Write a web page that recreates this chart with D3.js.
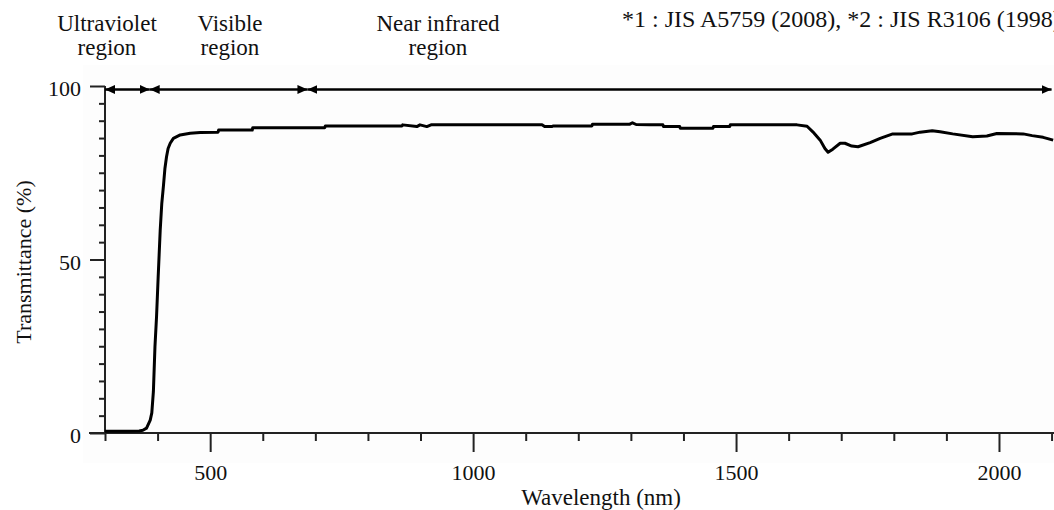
<!DOCTYPE html>
<html><head><meta charset="utf-8">
<script src="https://cdn.jsdelivr.net/npm/d3@7"></script>
<style>
  html, body { margin: 0; padding: 0; background: #fff; overflow: hidden; }
  svg { display: block; font-family: "Liberation Serif", "Times New Roman", serif; }
  .tick text { fill: #111; font-size: 22px; font-family: "Liberation Serif", "Times New Roman", serif; }
  .tick line { stroke: #222; stroke-width: 2; }
</style></head>
<body>
<svg id="chart" width="1054" height="510"></svg>
<script>
/* Spectral transmittance of glass, 300–2100 nm. */

// ---------- data ----------
const WAVELENGTH = [300, 340, 365, 372, 379, 386, 389, 392, 395, 398, 401, 405, 408, 411, 414, 417, 420, 424, 430, 443,
  462, 481, 515, 516, 580, 581, 718, 719, 865, 866, 893, 899, 912, 920, 1131, 1136, 1150, 1152, 1226, 1227,
  1298, 1303, 1310, 1336, 1361, 1362, 1393, 1394, 1456, 1457, 1488, 1489, 1616, 1635, 1646, 1660, 1669, 1675,
  1684, 1698, 1707, 1720, 1732, 1755, 1774, 1798, 1835, 1850, 1873, 1888, 1912, 1950, 1977, 1996, 2046, 2063,
  2084, 2103];
const TRANSMITTANCE = [0.5, 0.5, 0.6, 0.8, 1.4, 3.7, 5.8, 11.9, 24.9, 33.5, 44.6, 58.5, 66.2, 71.0, 76.3, 79.6, 82.0, 83.5, 84.9, 85.9,
  86.4, 86.6, 86.7, 87.3, 87.3, 88.0, 88.0, 88.5, 88.5, 88.8, 88.3, 88.8, 88.3, 88.8, 88.8, 88.3, 88.3, 88.5, 88.5, 89.0,
  89.0, 89.4, 88.9, 88.8, 88.8, 88.3, 88.3, 87.8, 87.8, 88.3, 88.3, 88.8, 88.8, 88.4, 86.8, 84.4, 82.0, 80.9,
  81.8, 83.5, 83.5, 82.7, 82.5, 83.7, 84.9, 86.2, 86.2, 86.7, 87.1, 86.8, 86.2, 85.4, 85.6, 86.3, 86.2, 85.7,
  85.2, 84.4];

const X_MAJOR = [500, 1000, 1500, 2000];
const X_MINOR = [300, 400, 600, 700, 800, 900, 1100, 1200, 1300, 1400, 1600, 1700, 1800, 1900, 2100];
const Y_MAJOR = [0, 50, 100];
const Y_MINOR = [5, 10, 15, 20, 25, 30, 35, 40, 45, 55, 60, 65, 70, 75, 80, 85, 90, 95];

const REGION_NAMES = [["Ultraviolet", "region"], ["Visible", "region"], ["Near infrared", "region"]];
const REGION_BOUNDS = [[300, 385], [385, 685], [685, 2100]];
const NOTE = "*1 : JIS A5759 (2008), *2 : JIS R3106 (1998)";

// ---------- layout ----------
const svg = d3.select("#chart");
const x = d3.scaleLinear().domain([300, 2105]).range([105, 1054.2]);
const y = d3.scaleLinear().domain([0, 100]).range([433, 86]);
const INK = "#111", AXIS = "#222";

svg.append("rect").attr("x", 83).attr("y", 65).attr("width", 1054 - 83).attr("height", 463 - 65).attr("fill", "#fdfdfd");

// ---------- axes ----------
const gx = svg.append("g").attr("transform", `translate(0,${y(0)})`);
gx.append("g").call(d3.axisBottom(x).tickValues(X_MINOR).tickSize(8).tickFormat(""))
  .call(g => g.select(".domain").remove());
gx.append("g").call(d3.axisBottom(x).tickValues(X_MAJOR).tickSize(19).tickFormat(d3.format("d")))
  .call(g => g.select(".domain").remove())
  .call(g => g.selectAll("text").attr("y", 47).attr("dy", 0));
gx.append("line").attr("x1", x(300) - 16).attr("x2", 1054).attr("stroke", AXIS).attr("stroke-width", 2);

const gy = svg.append("g").attr("transform", `translate(${x(300)},0)`);
gy.append("g").call(d3.axisLeft(y).tickValues(Y_MINOR).tickSize(6).tickFormat(""))
  .call(g => g.select(".domain").remove());
gy.append("g").call(d3.axisLeft(y).tickValues(Y_MAJOR).tickSize(15))
  .call(g => g.select(".domain").remove())
  .call(g => g.selectAll("text").attr("x", -24).attr("dy", "0.45em"));
gy.append("line").attr("y1", y(0)).attr("y2", y(100)).attr("stroke", AXIS).attr("stroke-width", 2);

svg.append("text").attr("x", 601).attr("y", 505).attr("text-anchor", "middle")
  .attr("font-size", 23).attr("fill", INK).text("Wavelength (nm)");
svg.append("text").attr("transform", "translate(31,262) rotate(-90)").attr("text-anchor", "middle")
  .attr("font-size", 22).attr("fill", INK).text("Transmittance (%)");

// ---------- region arrows ----------
svg.append("defs").append("marker").attr("id", "head")
  .attr("viewBox", "0 0 10 9").attr("refX", 10).attr("refY", 4.5)
  .attr("markerWidth", 10).attr("markerHeight", 9).attr("markerUnits", "userSpaceOnUse")
  .attr("orient", "auto-start-reverse")
  .append("path").attr("d", "M0,0L10,4.5L0,9Z").attr("fill", "#000");

svg.selectAll("line.region").data(REGION_BOUNDS).join("line").attr("class", "region")
  .attr("x1", d => x(d[0])).attr("x2", d => x(d[1])).attr("y1", y(99)).attr("y2", y(99))
  .attr("stroke", "#000").attr("stroke-width", 2.5)
  .attr("marker-start", "url(#head)").attr("marker-end", "url(#head)");

// two-line region captions, each line its own text so they don't collide
const LABEL_X = [107, 230, 438];
REGION_NAMES.forEach((lines, i) => {
  svg.selectAll(null).data(lines).join("text")
    .attr("x", LABEL_X[i]).attr("y", (d, j) => j ? 55 : 31).attr("text-anchor", "middle")
    .attr("font-size", 23).attr("fill", INK).text(d => d);
});

svg.append("text").attr("x", 622).attr("y", 27).attr("font-size", 24).attr("fill", INK).text(NOTE);

// ---------- curve ----------
const pts = WAVELENGTH.map((w, i) => [w, TRANSMITTANCE[i]]);
svg.append("path").datum(pts)
  .attr("d", d3.line().x(d => x(d[0])).y(d => y(d[1])))
  .attr("fill", "none").attr("stroke", "#000").attr("stroke-width", 3).attr("stroke-linejoin", "round");
</script>
</body></html>
